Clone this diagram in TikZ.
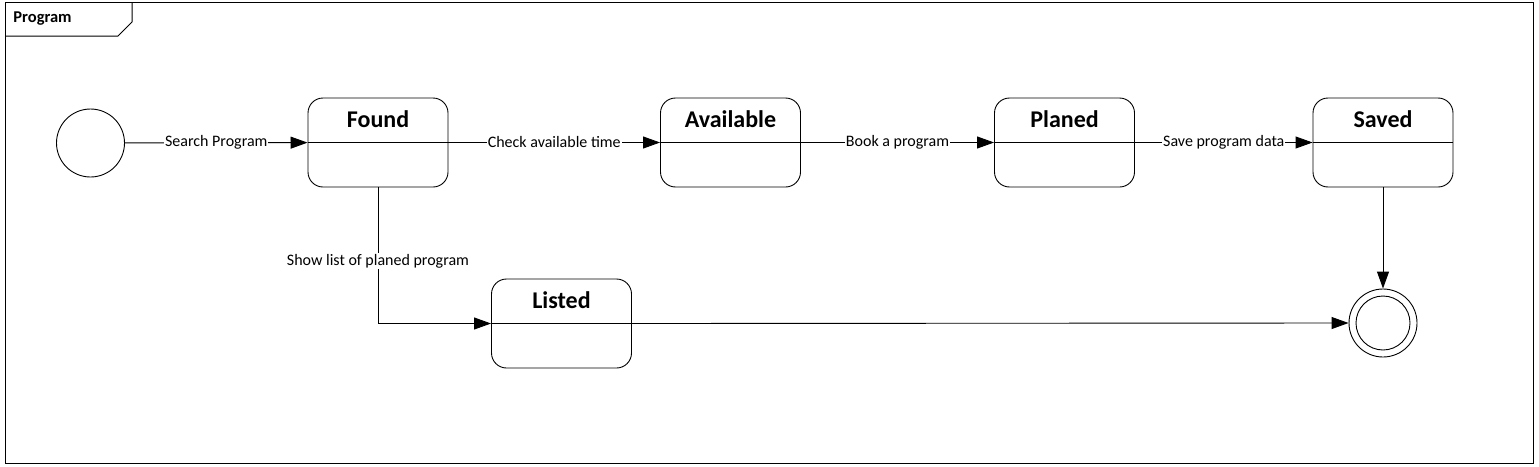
\documentclass[tikz,border=0pt]{standalone}
\usepackage{fontspec}
\setmainfont{Carlito}
\usetikzlibrary{arrows.meta}
\begin{document}
\begin{tikzpicture}[x=1pt,y=-1pt,
  line width=0.9pt,
  state/.style={draw,rounded corners=15pt,minimum width=140pt,minimum height=89pt,inner sep=0pt},
  stitle/.style={font=\fontsize{24}{28}\selectfont\bfseries,inner sep=0pt},
  lbl/.style={fill=white,font=\fontsize{16}{18}\selectfont,inner sep=1pt},
  arr/.style={-{Triangle[length=17pt,width=12pt]}},
  every node/.style={line width=0.9pt}]
\useasboundingbox (0,0) rectangle (1539,466);
% frame
\draw[line width=1pt] (5,2) rectangle (1533,463);
\draw[line width=1pt] (5,36) -- (118,36) -- (132,22) -- (132,2);
\node[anchor=west,font=\fontsize{16.5}{19}\selectfont\bfseries,inner sep=0pt] (ftitle) at (13,19) {Program};
% states
\node[draw,circle,minimum size=68pt,inner sep=0pt] (init) at (90.5,143) {};
\foreach \n/\x/\y/\t in {found/378/142.5/Found, avail/730.5/142.5/Available, planed/1064.5/142.5/Planed, saved/1383/142.5/Saved, listed/561.5/323.5/Listed}{
  \node[state] (\n) at (\x,\y) {};
  \draw (\n.west) -- (\n.east);
  \node[stitle] (\n-t) at ([yshift=-22pt]\n.north) {\t};
}
\node[draw,circle,minimum size=68pt,inner sep=0pt] (final) at (1383,323) {};
\node[draw,circle,minimum size=54pt,inner sep=0pt] (finalin) at (1383,323) {};
% transitions
\draw[arr] (init) -- node[lbl]{Search Program} (found);
\draw[arr] (found) -- node[lbl]{Check available time} (avail);
\draw[arr] (avail) -- node[lbl]{Book a program} (planed);
\draw[arr] (planed) -- node[lbl]{Save program data} (saved);
\draw[arr] (found.south) |- node[lbl,pos=0.27]{Show list of planed program} (listed.west);
\draw[arr] (listed.east) -- (final.west);
\draw[arr] (saved.south) -- (final.north);
\end{tikzpicture}
\end{document}
